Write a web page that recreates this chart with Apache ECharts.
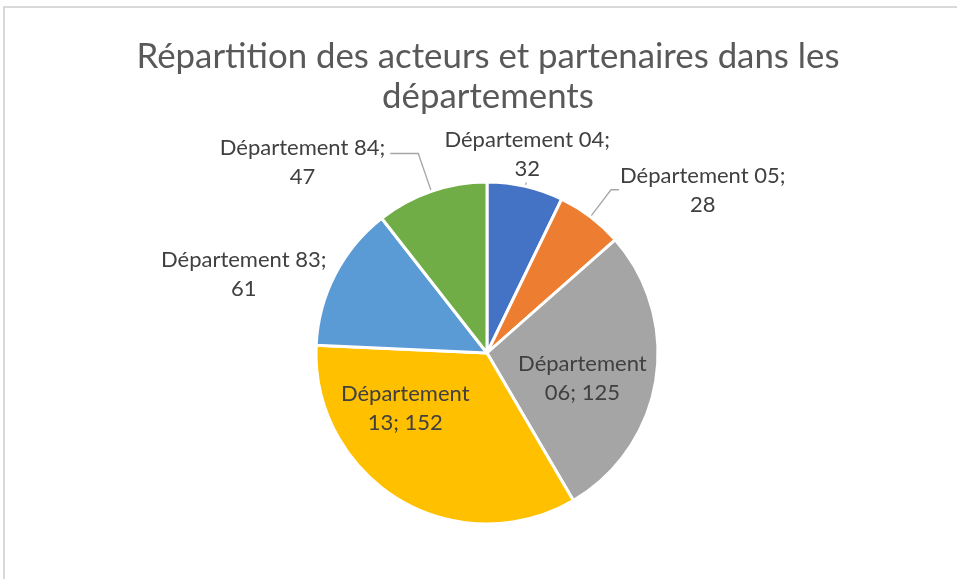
<!DOCTYPE html>
<html>
<head>
<meta charset="utf-8">
<script src="https://cdn.jsdelivr.net/npm/echarts@6/dist/echarts.min.js"></script>
<style>
  html, body { margin: 0; padding: 0; background: #fff; }
  #chart { width: 957px; height: 579px; }
</style>
</head>
<body>
<div id="chart"></div>
<script>
const categories = ['Département 04', 'Département 05', 'Département 06', 'Département 13', 'Département 83', 'Département 84'];
const values = [32, 28, 125, 152, 61, 47];
const colors = ['#4472C4', '#ED7D31', '#A5A5A5', '#FFC000', '#5B9BD5', '#70AD47'];
const titleText = 'Répartition des acteurs et partenaires dans les\ndépartements';

// label placement tweaks (per slice)
const insideLabel = [false, false, true, true, false, false];
const lineLen = [4, 34, 0, 0, 4, 40];
const lineLen2 = [0, 8, 0, 0, 0, 28];
const showLine = [true, true, false, false, false, true];
// side: -1 right-aligned block (left of pie), 1 left-aligned block, 0 already centred
const labelSide = [0, 1, 0, 0, -1, -1];
const labelShift = [
  { dx: -4, dy: 1 },
  { dx: -4, dy: 1 },
  { dx: 8, dy: 11 },
  { dx: -36, dy: -20 },
  { dx: 0, dy: 2 },
  { dx: 0, dy: 9 }
];

const FONT = 'Lato';
const chart = echarts.init(document.getElementById('chart'), null, { renderer: 'canvas' });

const data = categories.map((name, i) => {
  const inside = insideLabel[i];
  return {
    name: name,
    value: values[i],
    itemStyle: { color: colors[i] },
    label: {
      position: inside ? 'inside' : 'outside',
      formatter: inside
        ? (p) => p.name.replace(' ', '\n') + '; ' + p.value
        : (p) => p.name + ';\n' + p.value
    },
    labelLine: {
      show: showLine[i],
      length: lineLen[i],
      length2: lineLen2[i]
    }
  };
});

chart.setOption({
  animation: false,
  backgroundColor: '#ffffff',
  graphic: [{
    type: 'rect',
    shape: { x: 4, y: 7, width: 2000, height: 2000 },
    style: { fill: 'none', stroke: '#d9d9d9', lineWidth: 2 },
    silent: true
  }],
  title: {
    text: titleText,
    left: 483,
    textAlign: 'center',
    top: 32,
    textStyle: {
      fontFamily: FONT,
      fontSize: 34.8,
      fontWeight: 'normal',
      color: '#595959',
      lineHeight: 40,
      align: 'center'
    }
  },
  series: [{
    type: 'pie',
    center: [487, 353],
    radius: [0, 171],
    startAngle: 90,
    clockwise: true,
    avoidLabelOverlap: false,
    itemStyle: { borderColor: '#ffffff', borderWidth: 3 },
    label: {
      fontFamily: FONT,
      fontSize: 22,
      color: '#404040',
      lineHeight: 29,
      align: 'center'
    },
    labelLine: {
      lineStyle: { color: '#a6a6a6', width: 1.3 }
    },
    emphasis: { disabled: true },
    labelLayout: (p) => {
      const i = p.dataIndex;
      const s = labelShift[i];
      const w = p.labelRect.width;
      if (i === 0) {
        return { align: 'center', verticalAlign: 'bottom', dx: s.dx, dy: s.dy };
      }
      if (labelSide[i] !== 0) {
        return { align: 'center', dx: s.dx + labelSide[i] * w / 2, dy: s.dy };
      }
      return { dx: s.dx, dy: s.dy };
    },
    data: data
  }]
});
</script>
</body>
</html>
